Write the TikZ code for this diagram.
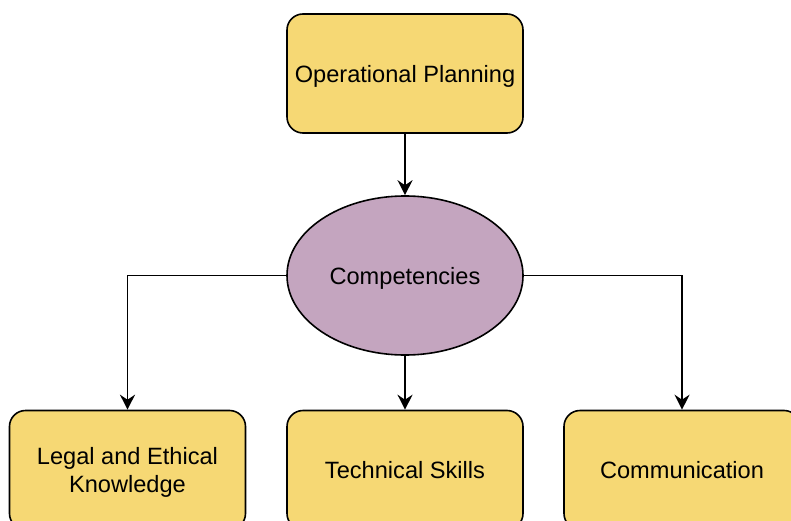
\documentclass[tikz,border=0pt]{standalone}
\usepackage{fontspec}
\setmainfont{Liberation Sans}
\usetikzlibrary{shapes.geometric,arrows.meta}
\definecolor{boxyellow}{HTML}{F6D874}
\definecolor{ovalpurple}{HTML}{C4A5BF}
\tikzset{
  box/.style={draw=black, line width=1.6pt, fill=boxyellow, rounded corners=16pt,
    minimum width=236pt, minimum height=119pt, align=center, font=\fontsize{23.6}{28.5}\selectfont, inner sep=0pt, text depth=0pt},
  oval/.style={draw=black, line width=1.6pt, fill=ovalpurple, ellipse,
    minimum width=236pt, minimum height=159pt, inner sep=0pt, font=\fontsize{23.6}{28.5}\selectfont, text depth=0pt},
  conn/.style={draw=black, line width=1.6pt, -{Stealth[length=15pt,width=15pt,inset=5pt]}}
}
\begin{document}
\begin{tikzpicture}[x=1pt,y=-1pt]
\useasboundingbox (0,0) rectangle (791,521);
\clip (0,0) rectangle (791,521);
\node[box] (op) at (405,73.5) {Operational Planning};
\node[oval] (comp) at (405,275.5) {Competencies};
\node[box] (legal) at (127.5,470) {Legal and Ethical\\Knowledge};
\node[box] (tech) at (405,470) {Technical Skills};
\node[box] (comm) at (682,470) {Communication};
\draw[conn] (op.south) -- (comp.north);
\draw[conn] (comp.south) -- (tech.north);
\draw[conn] (comp.west) -| (legal.north);
\draw[conn] (comp.east) -| (comm.north);
\end{tikzpicture}
\end{document}
